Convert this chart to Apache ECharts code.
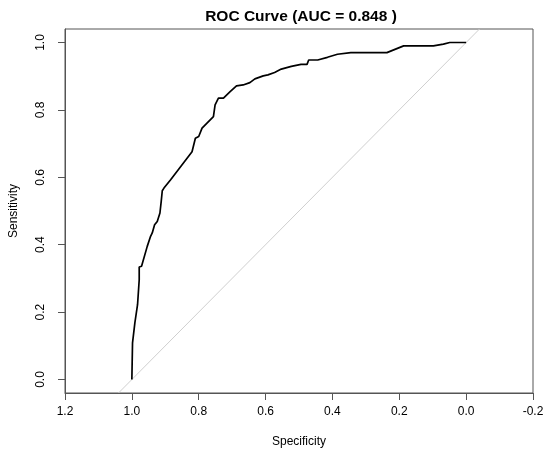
<!DOCTYPE html>
<html>
<head>
<meta charset="utf-8">
<script src="https://cdn.jsdelivr.net/npm/echarts@6/dist/echarts.min.js"></script>
<style>
  html, body { margin: 0; padding: 0; background: #fff; }
  #chart { width: 550px; height: 455px; }
</style>
</head>
<body>
<div id="chart"></div>
<script>
// ROC curve points
var specificity = [1.0, 0.998, 0.991, 0.983, 0.978, 0.978, 0.971, 0.954, 0.944, 0.939, 0.932,
  0.924, 0.916, 0.912, 0.909, 0.904,
  0.884, 0.820, 0.810, 0.800, 0.790, 0.776, 0.756, 0.751, 0.741, 0.726, 0.706, 0.687, 0.667,
  0.647, 0.632, 0.607, 0.593, 0.573, 0.553, 0.523, 0.494, 0.476, 0.471, 0.444, 0.415, 0.385,
  0.345, 0.237, 0.187, 0.098, 0.068, 0.049, 0.0]
var sensitivity = [0.0, 0.109, 0.168, 0.222, 0.296, 0.334, 0.336, 0.395, 0.425, 0.435, 0.459,
  0.469, 0.494, 0.530, 0.560, 0.568,
  0.593, 0.676, 0.716, 0.721, 0.746, 0.760, 0.780, 0.815, 0.835, 0.835, 0.854, 0.871, 0.874,
  0.881, 0.892, 0.901, 0.904, 0.911, 0.921, 0.929, 0.935, 0.935, 0.948, 0.948, 0.956, 0.965,
  0.970, 0.970, 0.990, 0.990, 0.995, 1.0, 1.0]
// chance diagonal (abline across the plot region)
var diagX = [1.04, -0.04]
var diagY = [-0.04, 1.04]
var yTicks = [0, 0.2, 0.4, 0.6, 0.8, 1.0]

var font = 'Liberation Sans, Arial, sans-serif'
var axisColor = '#555'

var rocData = specificity.map(function (s, i) { return [s, sensitivity[i]] })
var diagData = diagX.map(function (x, i) { return [x, diagY[i]] })

var myChart = echarts.init(document.getElementById('chart'))
var option = {
  backgroundColor: '#fff',
  animation: false,
  title: {
    text: 'ROC Curve (AUC = 0.848 )',
    left: 296,
    textAlign: 'center',
    top: 4,
    textStyle: { fontFamily: font, fontSize: 15.5, fontWeight: 'bold', color: '#000' }
  },
  grid: {
    left: 60,
    right: 17,
    top: 29,
    bottom: 62,
    show: true,
    borderColor: axisColor,
    borderWidth: 1,
    backgroundColor: 'transparent'
  },
  xAxis: {
    type: 'value',
    inverse: true,
    min: -0.2,
    max: 1.2,
    interval: 0.2,
    name: 'Specificity',
    nameLocation: 'middle',
    nameGap: 43,
    nameTextStyle: { fontFamily: font, fontSize: 12, color: '#000' },
    splitLine: { show: false },
    axisLine: { show: true, onZero: false, lineStyle: { color: axisColor } },
    axisTick: { show: true, length: 7, lineStyle: { color: axisColor } },
    axisLabel: {
      fontFamily: font, fontSize: 12, color: '#000', margin: 13,
      formatter: function (v) { return v.toFixed(1) }
    }
  },
  yAxis: {
    type: 'value',
    min: -0.04,
    max: 1.04,
    name: 'Sensitivity',
    nameLocation: 'middle',
    nameGap: 45,
    nameTextStyle: { fontFamily: font, fontSize: 12, color: '#000' },
    splitLine: { show: false },
    axisLine: { show: true, onZero: false, lineStyle: { color: axisColor } },
    axisTick: { show: true, length: 7, customValues: yTicks, lineStyle: { color: axisColor } },
    axisLabel: {
      fontFamily: font, fontSize: 12, color: '#000', margin: 18, rotate: 90,
      customValues: yTicks,
      formatter: function (v) { return v.toFixed(1) }
    }
  },
  series: [
    {
      type: 'line',
      data: diagData,
      showSymbol: false,
      silent: true,
      lineStyle: { color: '#cfcfcf', width: 1 }
    },
    {
      type: 'line',
      data: rocData,
      showSymbol: false,
      lineStyle: { color: '#000', width: 1.7 }
    }
  ]
}
myChart.setOption(option)
</script>
</body>
</html>
